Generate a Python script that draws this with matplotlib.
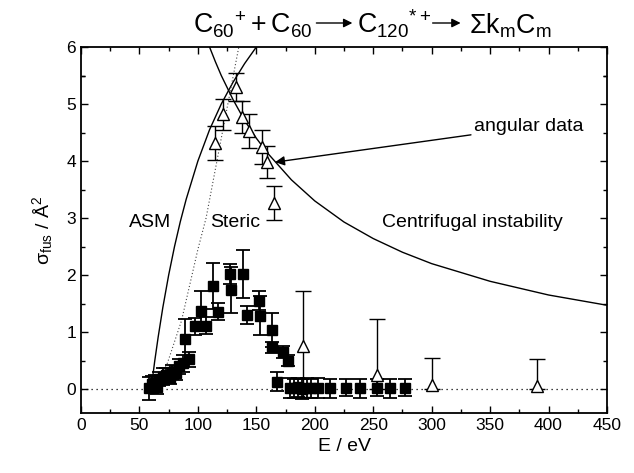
import matplotlib
matplotlib.use('Agg')
import matplotlib.pyplot as plt

plt.rcParams['font.family'] = ['Liberation Sans', 'DejaVu Sans']
plt.rcParams['mathtext.fontset'] = 'custom'
plt.rcParams['mathtext.rm'] = 'Liberation Sans'
plt.rcParams['mathtext.it'] = 'Liberation Sans:italic'
plt.rcParams['mathtext.bf'] = 'Liberation Sans:bold'
plt.rcParams['mathtext.sf'] = 'Liberation Sans'

# ---- fusion cross sections (filled squares) ----
sq_E = [58, 61, 63, 65, 67, 70, 73, 76, 78, 81, 84, 87, 89, 92, 97.5, 103, 107,
        113, 117, 127.5, 128, 138.5, 142, 152.5, 153.5, 163.5, 163, 172.5, 177, 168,
        179, 182, 186, 189, 193, 197, 203, 213, 227, 239, 253, 264, 277]
sq_sigma = [0.01, 0.08, 0.10, 0.03, 0.18, 0.22, 0.24, 0.20, 0.30, 0.28, 0.40, 0.45, 0.88,
            0.52, 1.10, 1.37, 1.11, 1.81, 1.36, 2.02, 1.74, 2.02, 1.30, 1.55, 1.29,
            1.04, 0.73, 0.65, 0.50, 0.13,
            0.02, 0.01, 0.03, 0.00, 0.02, 0.01, 0.02, 0.01, 0.02, 0.01, 0.02, 0.01, 0.02]
sq_err = [0.2, 0.15, 0.15, 0.12, 0.12, 0.15, 0.13, 0.12, 0.12, 0.12, 0.13, 0.15, 0.35,
          0.13, 0.15, 0.35, 0.15, 0.40, 0.15, 0.18, 0.40, 0.42, 0.16, 0.17, 0.35,
          0.30, 0.10, 0.10, 0.10, 0.17,
          0.17, 0.17, 0.17, 0.17, 0.17, 0.17, 0.17, 0.17, 0.15, 0.17, 0.15, 0.17, 0.15]

# ---- angular data (open triangles) ----
tri_E = [115, 121.5, 132.5, 137.5, 144, 154.5, 159.5, 165.5, 190, 253, 300, 390.5]
tri_sigma = [4.32, 4.82, 5.30, 4.77, 4.53, 4.24, 3.98, 3.27, 0.76, 0.25, 0.07, 0.05]
tri_err_lo = [0.30, 0.27, 0.25, 0.28, 0.30, 0.30, 0.28, 0.30, 0.90, 0.25, 0.07, 0.05]
tri_err_hi = [0.30, 0.27, 0.25, 0.28, 0.30, 0.30, 0.28, 0.30, 0.96, 0.98, 0.47, 0.48]

# ---- model curves ----
asm_E = [60, 61, 63, 66, 70, 75, 80, 85, 90, 100, 110, 120, 130, 140, 150]
asm_sigma = [0.0, 0.16, 0.48, 0.91, 1.43, 2.0, 2.5, 2.94, 3.33, 4.0, 4.55, 5.0, 5.38, 5.71, 6.0]

steric_E = [60, 66, 74, 86, 100, 107, 120, 135]
steric_sigma = [0.0, 0.15, 0.46, 1.2, 2.45, 3.0, 4.4, 6.0]

cent_E = [109, 115, 120, 130, 140, 150, 160, 180, 200, 225, 250, 275, 300, 350, 400, 450]
cent_sigma = [6.05, 5.74, 5.5, 5.08, 4.71, 4.4, 4.13, 3.67, 3.3, 2.93, 2.64, 2.4, 2.2,
              1.89, 1.65, 1.47]

xticks = [0, 50, 100, 150, 200, 250, 300, 350, 400, 450]
yticks = [0, 1, 2, 3, 4, 5, 6]

W, H = 634, 473
fig = plt.figure(figsize=(W/100, H/100), dpi=100)
ax = fig.add_axes([81/W, 60/H, 526/W, 366/H])

ax.axhline(0, color='black', ls=(0, (1, 3)), lw=0.9)
ax.plot(asm_E, asm_sigma, color='black', lw=1.0)
ax.plot(steric_E, steric_sigma, color='#444444', lw=0.8, ls=(0, (1, 2)))
ax.plot(cent_E, cent_sigma, color='black', lw=1.0)

ax.errorbar(sq_E, sq_sigma, yerr=sq_err, fmt='s', color='black', ms=7.5,
            mfc='black', mec='black', ecolor='black', elinewidth=1.3, capsize=5,
            capthick=1.3, zorder=3)
ax.errorbar(tri_E, tri_sigma, yerr=[tri_err_lo, tri_err_hi], fmt='^', ms=9,
            mfc='white', mec='black', mew=1.0, ecolor='black', elinewidth=1.0,
            capsize=6, capthick=1.0, zorder=4)

ax.set_xlim(0, 450)
ax.set_ylim(-0.42, 6)
ax.set_xticks(xticks)
ax.set_yticks(yticks)
ax.set_xticks([25 + 50*i for i in range(9)], minor=True)
ax.set_yticks([-0.5 + i for i in range(1, 7)] + [5.5], minor=True)
ax.tick_params(which='both', direction='in', top=True, right=True, labelsize=12.5,
               width=1.0)
ax.tick_params(which='major', length=5)
ax.tick_params(which='minor', length=3)
for s in ax.spines.values():
    s.set_linewidth(1.3)

ax.set_xlabel('E / eV', fontsize=14, labelpad=4)
ax.set_ylabel(r'$\mathrm{\sigma_{fus}}$ / Å$^{2}$', fontsize=14, labelpad=8)

ax.text(59, 2.93, 'ASM', fontsize=14, ha='center', va='center')
ax.text(131.7, 2.93, 'Steric', fontsize=14, ha='center', va='center')
ax.text(335, 2.93, 'Centrifugal instability', fontsize=14, ha='center', va='center')
ax.annotate('angular data', xy=(166, 3.98), xytext=(336, 4.6), fontsize=14,
            ha='left', va='center',
            arrowprops=dict(arrowstyle='-|>', color='black', lw=1.0,
                            mutation_scale=14, shrinkA=0, shrinkB=0))

# ---- reaction scheme above the plot ----
title_parts = [r'$\mathrm{C_{60}{}^{+} + C_{60}}$', r'$\mathrm{C_{120}{}^{*+}}$',
               r'$\mathrm{\Sigma k_m C_m}$']
renderer = fig.canvas.get_renderer()
x = 193
yb = H - 33          # baseline in pixels from bottom
arrow_len = [36, 28]
gaps = [(4, 5), (1, 8)]
for i, part in enumerate(title_parts):
    t = fig.text(x / W, yb / H, part, fontsize=19.3, ha='left', va='baseline')
    bb = t.get_window_extent(renderer)
    x = bb.x1
    if i < 2:
        g0, g1 = gaps[i]
        ya = (yb + 10) / H
        fig.add_artist(matplotlib.patches.FancyArrowPatch(
            ((x + g0) / W, ya), ((x + g0 + arrow_len[i]) / W, ya),
            transform=fig.transFigure, arrowstyle='-|>', mutation_scale=13,
            color='black', lw=1.0, shrinkA=0, shrinkB=0))
        x = x + g0 + arrow_len[i] + g1

fig.savefig('out.png', dpi=100)
